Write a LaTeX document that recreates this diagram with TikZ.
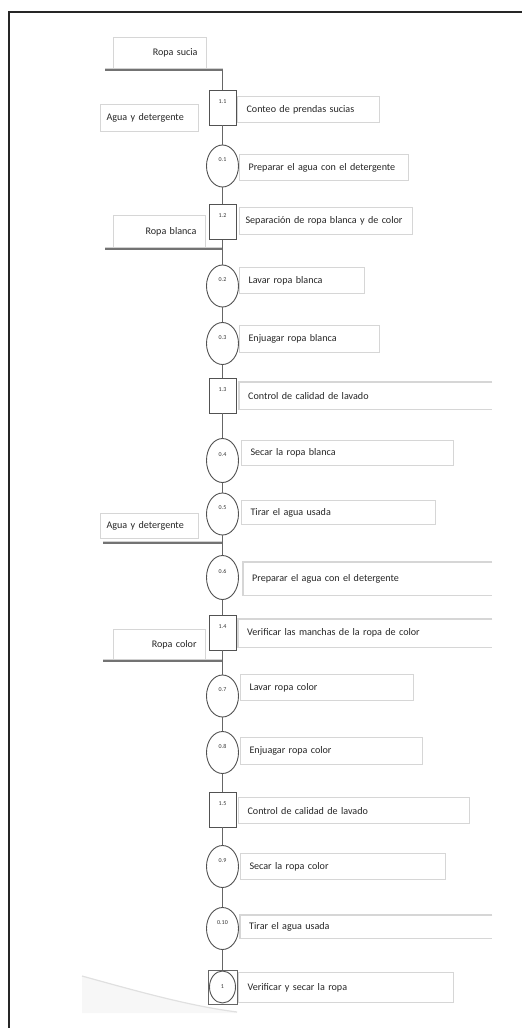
\documentclass[tikz,border=0pt]{standalone}
\usepackage{fontspec}
\setmainfont{Carlito}
\usetikzlibrary{shapes.geometric}

\begin{document}
\begin{tikzpicture}[x=1pt,y=-1pt,
  frame/.style={line width=1.8pt,black!85},
  flow/.style={line width=1.2pt,black!60},
  feed/.style={line width=1.6pt,black!55},
  feedshade/.style={line width=1.2pt,black!18},
  opbox/.style={rectangle,draw=black!68,line width=0.9pt,fill=white,minimum width=27pt,minimum height=35pt,inner sep=0pt},
  opcirc/.style={ellipse,draw=black!68,line width=0.9pt,fill=white,minimum width=32pt,minimum height=42pt,inner sep=0pt},
  tag/.style={font=\fontsize{6}{6}\selectfont,text=black!80,inner sep=0pt},
  boxline/.style={draw=black!16,line width=1.1pt},
  txt/.style={anchor=north west,inner xsep=9pt,inner ysep=0pt,align=left,font=\fontsize{10.1}{11}\selectfont,text=black!85},
  lefttxt/.style={anchor=north west,inner ysep=0pt,font=\fontsize{10.1}{11}\selectfont,text=black!85}
]
\useasboundingbox (0,0) rectangle (522,1028);

% outer frame (open to the right and bottom)
\draw[frame] (9,1030) -- (9,12) -- (524,12);

% faint swoosh in the lower left corner
\fill[black!3] (82,976) .. controls (140,992) and (190,1006) .. (237,1012) -- (237,1013) -- (82,1013) -- cycle;
\draw[black!12,line width=1.2pt] (82,976) .. controls (140,992) and (190,1006) .. (237,1012);

% ---------- input boxes on the left ----------
\node[lefttxt,boxline,draw,minimum width=93pt,minimum height=31pt,text width=75pt,align=right,inner xsep=9pt] (rs) at (113,37) {Ropa sucia};
\node[lefttxt,boxline,draw,minimum width=98pt,minimum height=27pt,text width=86pt,align=left,inner xsep=6pt] (ad1) at (100,104) {Agua y detergente};
\node[lefttxt,boxline,draw,minimum width=92pt,minimum height=32pt,text width=74pt,align=right,inner xsep=9pt] (rb) at (113,215) {Ropa blanca};
\node[lefttxt,boxline,draw,minimum width=98pt,minimum height=25pt,text width=86pt,align=left,inner xsep=6pt] (ad2) at (100,513) {Agua y detergente};
\node[lefttxt,boxline,draw,minimum width=92pt,minimum height=31pt,text width=74pt,align=right,inner xsep=9pt] (rc) at (113,629) {Ropa color};

% ---------- process symbols ----------
\node[opbox]  (s11) at (222.5,107.5) {};
\node[opcirc] (c01) at (222.5,166)   {};
\node[opbox]  (s12) at (222.5,222)   {};
\node[opcirc] (c02) at (222.5,286)   {};
\node[opcirc] (c03) at (222.5,343.5) {};
\node[opbox]  (s13) at (222.5,395.5) {};
\node[opcirc,minimum height=44pt] (c04) at (222.5,460.5) {};
\node[opcirc] (c05) at (222.5,514)   {};
\node[opcirc,minimum height=44pt] (c06) at (222.5,577.5) {};
\node[opbox]  (s14) at (222.5,632.5) {};
\node[opcirc] (c07) at (222.5,696)   {};
\node[opcirc] (c08) at (222.5,752.5) {};
\node[opbox]  (s15) at (222.5,809.5) {};
\node[opcirc] (c09) at (222.5,866.5) {};
\node[opcirc] (c10) at (222.5,928.5) {};
\node[opbox,minimum width=29pt,minimum height=34pt,draw=black!60] (f1) at (222.5,987) {};
\node[opcirc,minimum width=26pt,minimum height=32pt] (f1c) at (222.5,987) {};

% symbol numbers
\foreach \n/\t in {s11/1.1,s12/1.2,s13/1.3,s14/1.4,s15/1.5}
  \node[tag] at ([yshift=6pt]\n.center) {\t};
\foreach \n/\t in {c01/0.1,c02/0.2,c03/0.3,c04/0.4,c05/0.5,c06/0.6,c07/0.7,c08/0.8,c09/0.9,c10/0.10}
  \node[tag] at ([yshift=6pt]\n.center) {\t};
\node[tag] at (f1c.center) {1};

% ---------- input lines ----------
\coordinate (in1) at (105,70);  \coordinate (j1) at (222.5,70);
\coordinate (in2) at (105,249); \coordinate (j2) at (222.5,249);
\coordinate (in3) at (103,543); \coordinate (j3) at (222.5,543);
\coordinate (in4) at (103,661); \coordinate (j4) at (222.5,661);
\foreach \a/\b in {in1/j1,in2/j2,in3/j3,in4/j4}
  \draw[feedshade] ([yshift=1.6pt]\a) -- ([yshift=1.6pt]\b);
\draw[feed] (in1) -- (j1);
\draw[feed] (in2) -- (j2);
\draw[feed] (in3) -- (j3);
\draw[feed] (in4) -- (j4);

% ---------- main flow ----------
\draw[flow] (j1) -- (s11.north);
\foreach \a/\b in {s11/c01,c01/s12,s12/c02,c02/c03,c03/s13,s13/c04,c04/c05,c05/c06,c06/s14,s14/c07,c07/c08,c08/s15,s15/c09,c09/c10}
  \draw[flow] (\a.south) -- (\b.north);
\draw[flow] (c10.south) -- (f1.north);

% ---------- descriptions ----------
\node[txt,boxline,draw,text width=124pt,minimum height=26pt] (t11) at (237,96) {Conteo de prendas sucias};
\node[txt,boxline,draw,text width=151pt,minimum height=26pt] (t01) at (239,154) {Preparar el agua con el detergente};
\node[txt,boxline,draw,text width=161pt,inner xsep=6pt,minimum height=27pt] (t12) at (239,207) {\mbox{Separación de ropa blanca y de color}};
\node[txt,boxline,draw,text width=107pt,minimum height=26pt] (t02) at (239,267) {Lavar ropa blanca};
\node[txt,boxline,draw,text width=122pt,minimum height=27pt] (t03) at (239,325) {Enjuagar ropa blanca};
\node[txt,text width=235pt,minimum height=27pt] (t13) at (239,382) {Control de calidad de lavado};
\node[txt,boxline,draw,text width=194pt,minimum height=25pt] (t04) at (241,440) {Secar la ropa blanca};
\node[txt,boxline,draw,text width=176pt,minimum height=24pt] (t05) at (241,500) {Tirar el agua usada};
\node[txt,text width=231pt,minimum height=33pt] (t06) at (243,562) {Preparar el agua con el detergente};
\node[txt,text width=236pt,minimum height=28pt] (t14) at (238,619) {Verificar las manchas de la ropa de color};
\node[txt,boxline,draw,text width=155pt,minimum height=26pt] (t07) at (240,674) {Lavar ropa color};
\node[txt,boxline,draw,text width=164pt,minimum height=27pt] (t08) at (240,737) {Enjuagar ropa color};
\node[txt,boxline,draw,text width=213pt,minimum height=26pt] (t15) at (238,797) {Control de calidad de lavado};
\node[txt,boxline,draw,text width=187pt,minimum height=26pt] (t09) at (240,853) {Secar la ropa color};
\node[txt,text width=234pt,minimum height=23pt] (t10) at (240,915) {Tirar el agua usada};
\node[txt,boxline,draw,text width=197pt,minimum height=30pt] (tf) at (238,972) {Verificar y secar la ropa};

% description boxes that run on past the right margin
\foreach \n in {t13,t06,t14,t10}
  \draw[boxline] (\n.north east) -- (\n.north west) -- (\n.south west) -- (\n.south east);
\end{tikzpicture}
\end{document}
